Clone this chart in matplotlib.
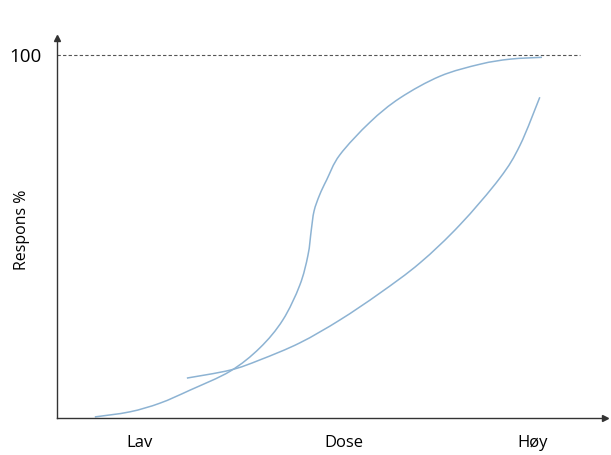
import matplotlib.pyplot as plt
from matplotlib.path import Path
from matplotlib.patches import PathPatch

# Dose scale 0-100, response in percent
steep_dose = [6.9, 13.3, 18.8, 24.3, 31.6, 37.0, 41.2, 44.3, 45.8, 46.4, 46.9,
              47.9, 49.2, 51.6, 57.1, 62.6, 69.9, 77.2, 82.7, 88.5]
steep_resp = [0.3, 1.7, 4.1, 7.7, 12.9, 19.3, 27.0, 36.6, 44.9, 51.8, 57.0,
              61.4, 65.6, 72.5, 81.5, 88.2, 94.2, 97.5, 98.9, 99.4]

flat_dose = [23.7, 31.6, 37.0, 44.3, 51.6, 58.9, 66.2, 73.5, 80.8, 84.5, 88.1]
flat_resp = [11.0, 13.2, 16.0, 20.7, 27.0, 34.4, 42.7, 53.2, 66.1, 75.2, 88.4]

tick_pos = [15.1, 52.4, 86.7]
tick_labels = ['Lav', 'Dose', 'Høy']


def smooth_path(xs, ys):
    # bezier segments through the points (catmull-rom style handles)
    pts = list(zip(xs, ys))
    verts = [pts[0]]
    codes = [Path.MOVETO]
    for i in range(len(pts) - 1):
        p0 = pts[i - 1] if i > 0 else pts[i]
        p1 = pts[i]
        p2 = pts[i + 1]
        p3 = pts[i + 2] if i + 2 < len(pts) else pts[i + 1]
        c1 = (p1[0] + (p2[0] - p0[0]) / 6, p1[1] + (p2[1] - p0[1]) / 6)
        c2 = (p2[0] - (p3[0] - p1[0]) / 6, p2[1] - (p3[1] - p1[1]) / 6)
        verts += [c1, c2, p2]
        codes += [Path.CURVE4] * 3
    return Path(verts, codes)


plt.rcParams['font.family'] = ['Open Sans', 'DejaVu Sans']

fig = plt.figure(figsize=(6.11, 4.55), dpi=100)
ax = fig.add_axes([0.0933, 0.0813, 0.8969, 0.835])
ax.set_xlim(0, 100)
ax.set_ylim(0, 104.7)

line_col = '#8db3d3'
for xs, ys in [(steep_dose, steep_resp), (flat_dose, flat_resp)]:
    ax.add_patch(PathPatch(smooth_path(xs, ys), facecolor='none',
                           edgecolor=line_col, lw=1.1))

# 100 % reference
ax.axhline(100, xmin=0, xmax=0.955, color='#555555', lw=0.8, ls=(0, (3, 2)))

for side in ['top', 'right']:
    ax.spines[side].set_visible(False)
for side in ['left', 'bottom']:
    ax.spines[side].set_color('#333333')
    ax.spines[side].set_linewidth(1.0)

# arrow heads on the axes
ax.plot(1, 0, '>', color='#333333', ms=4, transform=ax.transAxes, clip_on=False)
ax.plot(0, 1, '^', color='#333333', ms=4, transform=ax.transAxes, clip_on=False)

ax.set_xticks(tick_pos)
ax.set_xticklabels(tick_labels, fontsize=12)
ax.set_yticks([100])
ax.set_yticklabels(['100'], fontsize=13.5)
ax.tick_params(length=0, pad=12, axis='x')
ax.tick_params(length=0, pad=11, axis='y')
ax.set_ylabel('Respons %', fontsize=11.5)
ax.yaxis.set_label_coords(-0.05, 0.495)

fig.savefig('out.png', dpi=100)
